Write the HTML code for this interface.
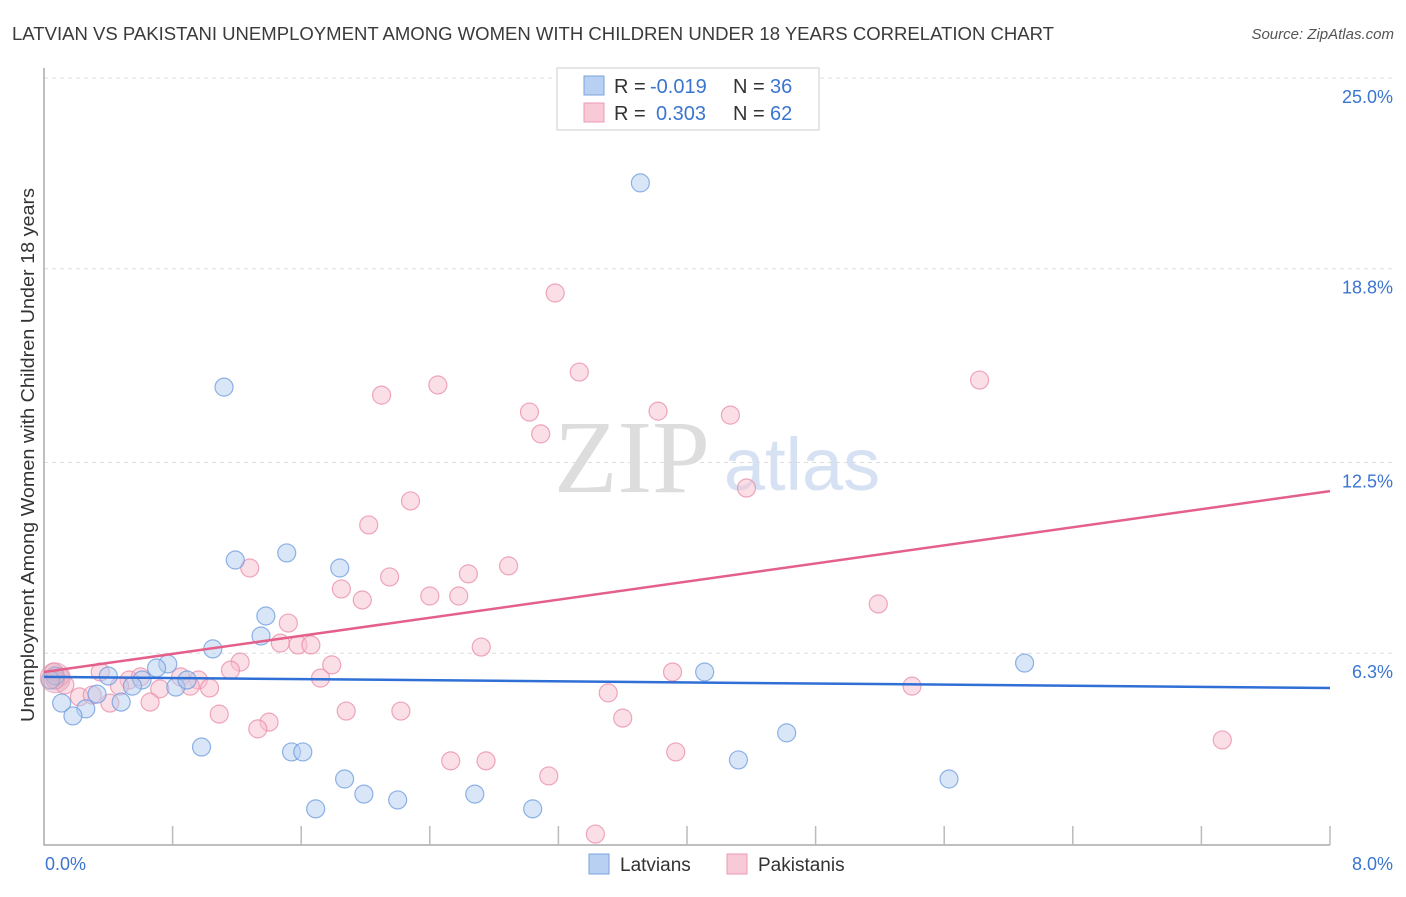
<!DOCTYPE html>
<html><head><meta charset="utf-8"><style>
body{margin:0;background:#fff;font-family:"Liberation Sans",sans-serif;}
</style></head><body>
<svg id="chart" width="1406" height="892" xmlns="http://www.w3.org/2000/svg" font-family="Liberation Sans, sans-serif">
<text x="12" y="40" font-size="18" fill="#3a3a3a" textLength="1042" lengthAdjust="spacingAndGlyphs">LATVIAN VS PAKISTANI UNEMPLOYMENT AMONG WOMEN WITH CHILDREN UNDER 18 YEARS CORRELATION CHART</text>
<text x="1394" y="39" font-size="15" fill="#555" text-anchor="end" font-style="italic">Source: ZipAtlas.com</text>
<text transform="translate(34,455) rotate(-90)" font-size="18" fill="#333" text-anchor="middle" textLength="534" lengthAdjust="spacingAndGlyphs">Unemployment Among Women with Children Under 18 years</text>
<g>
<text x="632" y="492" font-size="104" fill="#ddd" text-anchor="middle" font-family="Liberation Serif, serif">ZIP</text>
<text x="802" y="490" font-size="74" fill="#d6e2f3" text-anchor="middle">atlas</text>
</g>
<g id="grid"></g><g id="axes"></g><g id="pts"></g><g id="lines"></g>
<g>
<rect x="557" y="68" width="262" height="62" fill="#fff" stroke="#ccc"/>
<rect x="584" y="76" width="20" height="19" fill="#b8d1f2" stroke="#7aa3dc"/>
<rect x="584" y="103" width="20" height="19" fill="#f8c9d6" stroke="#ec9ab2"/>
<text x="614" y="93" font-size="20" fill="#333">R =</text>
<text x="650" y="93" font-size="20" fill="#3b75cf">-0.019</text>
<text x="733" y="93" font-size="20" fill="#333">N =</text>
<text x="770" y="93" font-size="20" fill="#3b75cf">36</text>
<text x="614" y="120" font-size="20" fill="#333">R =</text>
<text x="656" y="120" font-size="20" fill="#3b75cf">0.303</text>
<text x="733" y="120" font-size="20" fill="#333">N =</text>
<text x="770" y="120" font-size="20" fill="#3b75cf">62</text>
</g>
<g>
<rect x="589" y="854" width="20" height="20" fill="#b8d1f2" stroke="#7aa3dc"/>
<text x="620" y="871" font-size="19" fill="#333">Latvians</text>
<rect x="727" y="854" width="20" height="20" fill="#f8c9d6" stroke="#ec9ab2"/>
<text x="758" y="871" font-size="19" fill="#333">Pakistanis</text>
</g>
</svg>
<script>
const latX=[3.71,1.12,1.19,1.51,1.84,1.38,1.35,1.05,0.77,0.70,0.40,0.61,0.82,0.89,0.55,0.33,0.48,0.26,0.11,0.18,0.07,0.98,1.54,1.61,1.87,1.99,2.20,2.68,1.69,3.04,4.11,4.32,4.62,5.63,6.10,0.04];
const latY=[21.59,14.95,9.33,9.56,9.07,7.51,6.86,6.44,5.95,5.82,5.56,5.43,5.20,5.43,5.23,4.97,4.71,4.49,4.68,4.26,5.56,3.25,3.09,3.09,2.21,1.72,1.53,1.72,1.24,1.24,5.69,2.83,3.71,2.21,5.98,5.43];
const pakX=[3.18,3.33,2.45,2.10,5.82,3.02,3.82,4.27,3.09,2.28,4.37,2.02,1.28,2.89,2.64,2.15,1.85,1.98,2.40,2.58,5.19,1.52,1.47,1.58,1.66,2.72,1.22,1.79,1.16,1.72,3.91,0.35,0.53,0.60,0.85,0.96,0.72,0.91,1.03,0.47,0.22,0.30,0.41,0.66,0.10,0.06,1.09,1.40,1.33,1.88,2.22,3.51,3.60,5.40,7.33,2.53,2.75,3.93,3.14,3.43,0.13,0.07];
const pakY=[18.01,15.44,15.02,14.69,15.18,14.14,14.17,14.04,13.43,11.25,11.67,10.47,9.07,9.14,8.88,8.78,8.39,8.03,8.16,8.16,7.90,7.28,6.63,6.57,6.57,6.50,6.01,5.92,5.75,5.49,5.69,5.69,5.43,5.53,5.53,5.43,5.14,5.23,5.17,5.23,4.88,4.94,4.68,4.71,5.53,5.69,4.32,4.06,3.84,4.42,4.42,5.01,4.19,5.23,3.48,2.80,2.80,3.09,2.31,0.42,5.27,5.43];
const yTicks=[25.0,18.8,12.5,6.3];
const yTickLabels=["25.0%","18.8%","12.5%","6.3%"];
const xTickCount=10;
const latTrend=[5.53,5.17];
const pakTrend=[5.69,11.57];
const X=v=>44+v/8*1286;
const Y=v=>847-v/25*769;
const NS='http://www.w3.org/2000/svg';
function mk(parent,tag,attrs){const e=document.createElementNS(NS,tag);for(const k in attrs)e.setAttribute(k,attrs[k]);document.getElementById(parent).appendChild(e);return e;}
yTicks.forEach((t,i)=>{
 const g=mk('grid','line',{x1:44,x2:1394,y1:Y(t),y2:Y(t),stroke:'#ddd','stroke-dasharray':'4,4'});
 
 
 const l=mk('grid','text',{x:1393,y:Y(t)+25,'font-size':18,fill:'#3b75cf','text-anchor':'end'});
 l.textContent=yTickLabels[i];
 
 
});
const ax=mk('axes','path',{d:'M44,68 V845 H1330',fill:'none',stroke:'#aaa','stroke-width':1.5});


for(let i=1;i<=xTickCount;i++){
 const t=mk('axes','line',{x1:X(i*0.8),x2:X(i*0.8),y1:826,y2:845,stroke:'#bbb','stroke-width':1.5});
 
 
}
const x0=mk('axes','text',{x:45,y:870,'font-size':18,fill:'#3b75cf'});x0.textContent='0.0%';


const x1=mk('axes','text',{x:1393,y:870,'font-size':18,fill:'#3b75cf','text-anchor':'end'});x1.textContent='8.0%';


function dots(xs,ys,fill,stroke,name){
 xs.forEach((v,i)=>{
  const c=mk('pts','circle',{cx:X(v),cy:Y(ys[i]),r:9,fill:fill,'fill-opacity':0.5,stroke:stroke,'stroke-opacity':0.75,'stroke-width':1.2});
  
  
 });
}
dots(pakX,pakY,'#f8c0d0','#e98aa8','pakistani-point');
dots(latX,latY,'#b3cdf0','#6b9ade','latvian-point');
const big=mk('pts','circle',{cx:X(0.07),cy:Y(5.5),r:15,fill:'#d9a7bb','fill-opacity':0.45,stroke:'#e98aa8','stroke-opacity':0.6});


const lt=mk('lines','line',{x1:X(0),x2:X(8),y1:Y(latTrend[0]),y2:Y(latTrend[1]),stroke:'#2f6fd6','stroke-width':2.5});


const pt=mk('lines','line',{x1:X(0),x2:X(8),y1:Y(pakTrend[0]),y2:Y(pakTrend[1]),stroke:'#e4608a','stroke-width':2.5});


</script>
</body></html>
